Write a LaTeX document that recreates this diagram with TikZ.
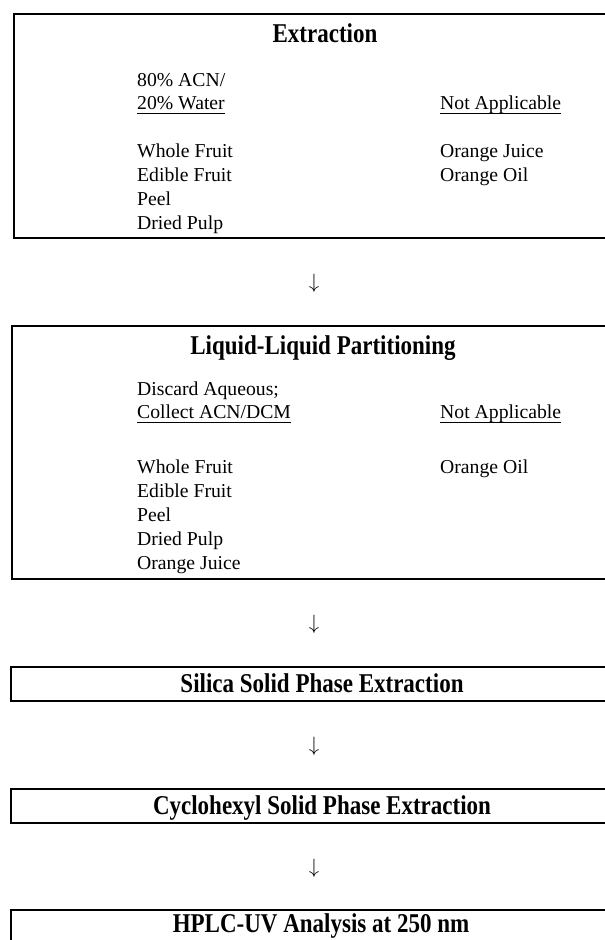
\documentclass[tikz,border=0pt]{standalone}
\usepackage{graphicx}
\usepackage{fontspec}
\setmainfont{Liberation Serif}
\newcommand\myul[1]{\setbox0\hbox{#1}\leavevmode\rlap{\rule[-4.5pt]{\wd0}{0.9pt}}\box0}
\newcommand\mytitle[1]{\scalebox{1}[1.18]{#1}}
\begin{document}
\begin{tikzpicture}[x=1pt,y=-1pt,
  box/.style={draw, line width=1.6pt, anchor=north west, inner sep=0pt, minimum width=620pt},
  body/.style={anchor=base west, inner sep=0pt, font=\fontsize{19.7}{24}\selectfont},
  ttl/.style={anchor=base, inner sep=0pt, font=\fontsize{23}{28}\selectfont\bfseries},
  arr/.style={inner sep=0pt, font=\fontsize{19.5}{24}\selectfont}]
\useasboundingbox (0,0) rectangle (605,940);
\clip (0,0) rectangle (605,940);
\fill[white] (0,0) rectangle (605,940);
% Box 1
\node[box, minimum height=224pt] (b1) at (13,13) {};
\node[ttl] (t1) at (325,42) {\mytitle{Extraction}};
\node[body] (l1a) at (137,86) {80\% ACN/};
\node[body] (l1b) at (137,109) {\myul{20\% Water}};
\node[body] (r1a) at (440,109) {\myul{Not Applicable}};
\node[body] (l1c) at (137,157) {Whole Fruit};
\node[body] (l1d) at (137,181) {Edible Fruit};
\node[body] (l1e) at (137,205) {Peel};
\node[body] (l1f) at (137,229) {Dried Pulp};
\node[body] (r1b) at (440,157) {Orange Juice};
\node[body] (r1c) at (440,181) {Orange Oil};
% Arrow 1
\node[arr] (a1) at (314,283) {$\downarrow$};
% Box 2
\node[box, minimum height=253pt] (b2) at (11,325) {};
\node[ttl] (t2) at (323,354) {\mytitle{Liquid-Liquid Partitioning}};
\node[body] (l2a) at (137,395) {Discard Aqueous;};
\node[body] (l2b) at (137,418) {\myul{Collect ACN/DCM}};
\node[body] (r2a) at (440,418) {\myul{Not Applicable}};
\node[body] (l2c) at (137,473) {Whole Fruit};
\node[body] (l2d) at (137,497) {Edible Fruit};
\node[body] (l2e) at (137,521) {Peel};
\node[body] (l2f) at (137,545) {Dried Pulp};
\node[body] (l2g) at (137,569) {Orange Juice};
\node[body] (r2b) at (440,473) {Orange Oil};
% Arrow 2
\node[arr] (a2) at (314,624) {$\downarrow$};
% Box 3
\node[box, minimum height=34pt] (b3) at (10,666) {};
\node[ttl] (t3) at (322,692) {\mytitle{Silica Solid Phase Extraction}};
% Arrow 3
\node[arr] (a3) at (314,746) {$\downarrow$};
% Box 4
\node[box, minimum height=34pt] (b4) at (10,788) {};
\node[ttl] (t4) at (322,814) {\mytitle{Cyclohexyl Solid Phase Extraction}};
% Arrow 4
\node[arr] (a4) at (314,868) {$\downarrow$};
% Box 5
\node[box, minimum height=60pt] (b5) at (10,909) {};
\node[ttl] (t5) at (321,932) {\mytitle{HPLC-UV Analysis at 250 nm}};
\end{tikzpicture}
\end{document}
